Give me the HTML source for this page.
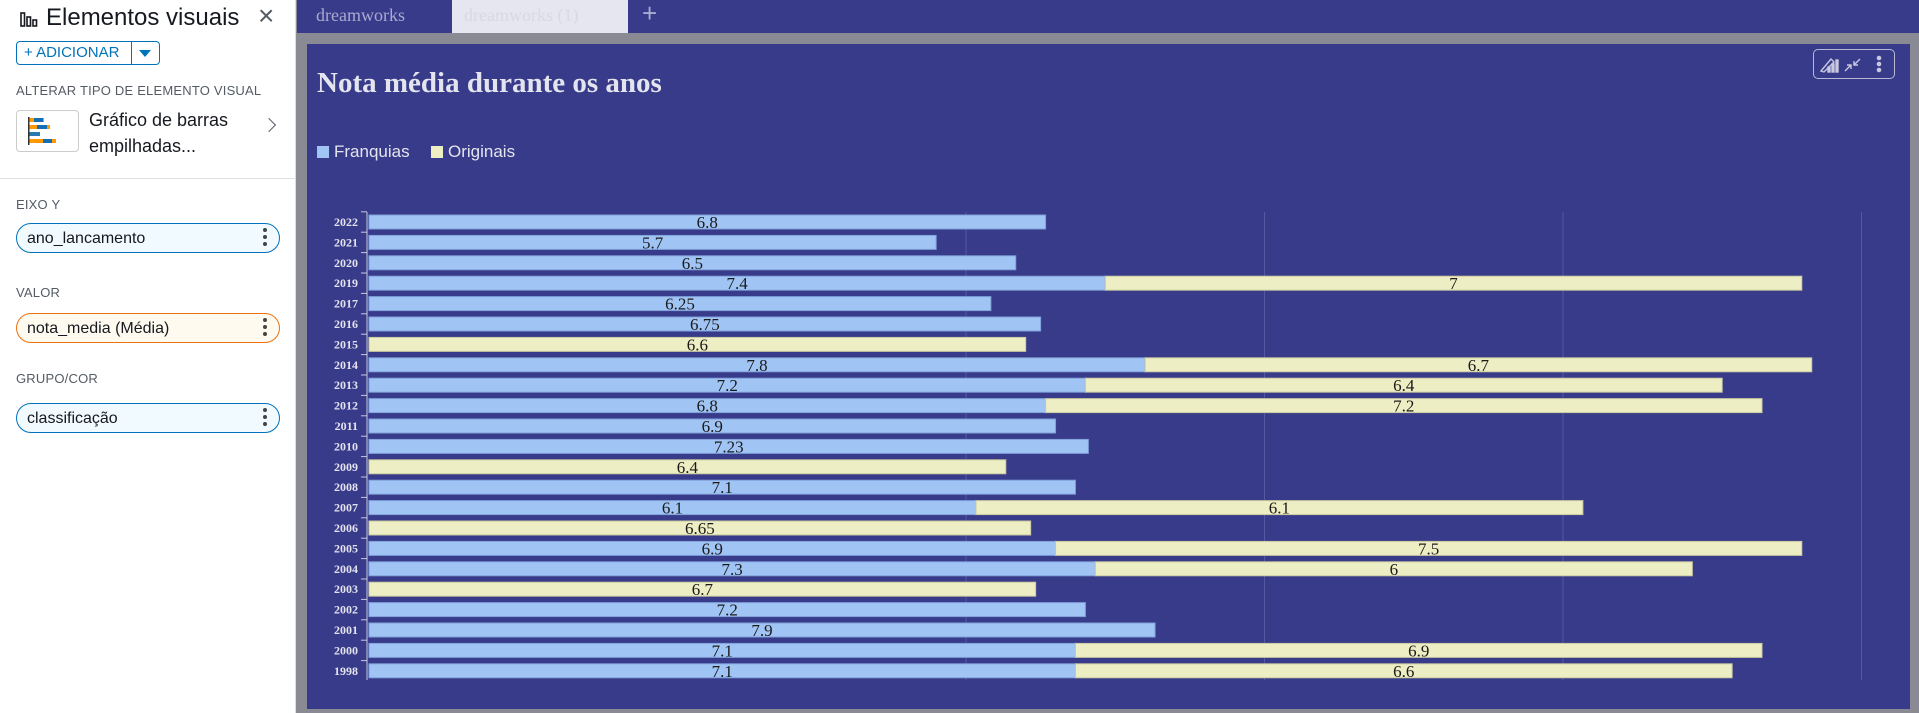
<!DOCTYPE html>
<html><head><meta charset="utf-8">
<style>
*{box-sizing:border-box;margin:0;padding:0}
body{width:1919px;height:713px;overflow:hidden;background:#8a8a94;font-family:"Liberation Sans",sans-serif;position:relative}
.abs{position:absolute}
#panel{left:0;top:0;width:296px;height:713px;background:#fff;border-right:1px solid #ddd}
.lbl{font-size:13px;color:#545b64;letter-spacing:0.2px}
.pill{left:16px;width:264px;height:30px;border:1px solid #0073bb;border-radius:15px;background:#f1faff;font-size:16px;color:#16191f;padding:6px 10px}
.dots{position:absolute;right:12px;top:4px;font-size:18px;line-height:6px;color:#444;width:4px}
.dots i{display:block;width:4px;height:4px;background:#444;border-radius:2px;margin-bottom:3px}
</style></head><body>
<div id="panel" class="abs">
  <svg class="abs" style="left:19px;top:10px" width="20" height="18"><g fill="none" stroke="#16191f" stroke-width="1.6"><rect x="2" y="3" width="3.5" height="13"/><rect x="8" y="7" width="3.5" height="9"/><rect x="14" y="10" width="3.5" height="6"/></g></svg>
  <div class="abs" style="left:46px;top:4px;font-size:24px;color:#16191f">Elementos visuais</div>
  <div class="abs" style="left:258px;top:0px;font-size:28px;color:#545b64">×</div>
  <div class="abs" style="left:16px;top:41px;width:144px;height:24px;border:1px solid #0073bb;border-radius:4px">
    <span class="abs" style="left:7px;top:2px;font-size:15px;color:#0073bb">+ ADICIONAR</span>
    <span class="abs" style="left:114px;top:0;width:1px;height:22px;background:#0073bb"></span>
    <span class="abs" style="left:122px;top:8px;width:0;height:0;border-left:6px solid transparent;border-right:6px solid transparent;border-top:7px solid #0073bb"></span>
  </div>
  <div class="abs lbl" style="left:16px;top:83px">ALTERAR TIPO DE ELEMENTO VISUAL</div>
  <div class="abs" style="left:16px;top:110px;width:63px;height:42px;border:1px solid #ccc;border-radius:4px">
    <svg width="63" height="42"><rect x="11" y="7" width="16" height="4" fill="#f90"/><rect x="17" y="7" width="9" height="4" fill="#146eb4"/><rect x="11" y="14" width="22" height="4" fill="#f90"/><rect x="20" y="14" width="10" height="4" fill="#146eb4"/><rect x="11" y="21" width="12" height="4" fill="#2a7ab0"/><rect x="11" y="28" width="28" height="4" fill="#f90"/><rect x="26" y="28" width="9" height="4" fill="#146eb4"/><rect x="11" y="6" width="1.5" height="28" fill="#333"/></svg>
  </div>
  <div class="abs" style="left:89px;top:107px;font-size:18px;line-height:26px;color:#16191f">Gráfico de barras<br>empilhadas...</div>
  <div class="abs" style="left:264px;top:120px;width:10px;height:10px;border-right:1.6px solid #545b64;border-bottom:1.6px solid #545b64;transform:rotate(-45deg)"></div>
  <div class="abs" style="left:0;top:178px;width:296px;height:1px;background:#e0e0e0"></div>
  <div class="abs lbl" style="left:16px;top:197px">EIXO Y</div>
  <div class="abs pill" style="top:223px">ano_lancamento<div class="dots"><i></i><i></i><i></i></div></div>
  <div class="abs lbl" style="left:16px;top:285px">VALOR</div>
  <div class="abs pill" style="top:313px;border-color:#ec7211;background:#fffaf0">nota_media (Média)<div class="dots"><i></i><i></i><i></i></div></div>
  <div class="abs lbl" style="left:16px;top:371px">GRUPO/COR</div>
  <div class="abs pill" style="top:403px">classificação<div class="dots"><i></i><i></i><i></i></div></div>
</div>
<div class="abs" style="left:297px;top:0;width:1622px;height:33px;background:#383a8a">
  <div class="abs" style="left:19px;top:5px;font-family:'Liberation Serif',serif;font-size:18px;color:#a8aad0">dreamworks</div>
  <div class="abs" style="left:155px;top:0;width:176px;height:33px;background:#e6e6f0"><span class="abs" style="left:12px;top:5px;font-family:'Liberation Serif',serif;font-size:18px;color:#d8d8e6">dreamworks (1)</span></div>
  <div class="abs" style="left:345px;top:-2px;font-size:26px;color:#a8aad0">+</div>
</div>
<div class="abs" style="left:307px;top:44px;width:1603px;height:665px;background:#383a8a"></div>
<div class="abs" style="left:1813px;top:49px;width:82px;height:30px;border:1px solid #b8b8d8;border-radius:5px">
  <svg width="82" height="30"><g stroke="#c8c8e0" fill="#c8c8e0" stroke-width="1.4"><path d="M7 21 L17 9 L20 12 L10 22 Z" fill="none"/><rect x="14" y="17" width="2" height="5"/><rect x="18" y="14" width="2" height="8"/><rect x="22" y="10" width="2" height="12"/><path d="M31 21 L37 15 M37 19 V15 H33 M46 9 L40 15 M40 11 V15 H44" fill="none"/><circle cx="65" cy="8" r="1.6"/><circle cx="65" cy="14" r="1.6"/><circle cx="65" cy="20" r="1.6"/></g></svg>
</div>
<svg class="abs" style="left:0;top:0" width="1919" height="713" id="chart"></svg>
<script>
const years=["2022","2021","2020","2019","2017","2016","2015","2014","2013","2012","2011","2010","2009","2008","2007","2006","2005","2004","2003","2002","2001","2000","1998"];
const franquias=[6.8,5.7,6.5,7.4,6.25,6.75,0,7.8,7.2,6.8,6.9,7.23,0,7.1,6.1,0,6.9,7.3,0,7.2,7.9,7.1,7.1];
const originais=[0,0,0,7,0,0,6.6,6.7,6.4,7.2,0,0,6.4,0,6.1,6.65,7.5,6,6.7,0,0,6.9,6.6];
const gridTicks=[6,9,12,15];
const NS="http://www.w3.org/2000/svg";
const svg=document.getElementById('chart');
const X0=369,UNIT=99.5,Y0=222,STEP=20.4,BH=14;
const xs=v=>X0+v*UNIT;
const ys=i=>Y0+i*STEP;
function mk(tag,attrs){const e=document.createElementNS(NS,tag);for(const k in attrs)e.setAttribute(k,attrs[k]);svg.appendChild(e);return e;}
let t=mk('text',{x:317,y:92,'font-family':'Liberation Serif, serif','font-weight':'bold','font-size':29,fill:'#e4e4ee'});t.textContent='Nota média durante os anos';


const legend=[["Franquias","#a0c4f4",317],["Originais","#eeeec4",431]];
legend.forEach(l=>{
 const r=mk('rect',{x:l[2],y:146,width:12,height:12,fill:l[1]});
 
 
 const tx=mk('text',{x:l[2]+17,y:157,'font-family':'Liberation Sans, sans-serif','font-size':17,fill:'#e4e4ee'});tx.textContent=l[0];
 
 
});
gridTicks.forEach(v=>{
 const g=mk('line',{x1:xs(v),x2:xs(v),y1:212,y2:680,stroke:'#5458a0','stroke-width':1});
 
 
});
const ax=mk('line',{x1:367,x2:367,y1:212,y2:680,stroke:'#c8c8e0','stroke-width':1});


years.forEach((yr,i)=>{
 const cy=ys(i);
 const tk=mk('line',{x1:361,x2:367,y1:cy-STEP/2,y2:cy-STEP/2,stroke:'#c8c8e0','stroke-width':1});
 
 
 const lb=mk('text',{x:358,y:cy+4,'text-anchor':'end','font-family':'Liberation Serif, serif','font-weight':'bold','font-size':12,fill:'#e4e4ee'});lb.textContent=yr;
 
 
 const segs=[[0,franquias[i],'#a0c4f4','#7fa0d8','franquias'],[franquias[i],originais[i],'#eeeec4','#c8c8a0','originais']];
 segs.forEach(s=>{
  if(!s[1])return;
  const r=mk('rect',{x:xs(s[0]),y:cy-BH/2,width:s[1]*UNIT,height:BH,fill:s[2],stroke:s[3],'stroke-width':1});
  
  
  const v=mk('text',{x:xs(s[0]+s[1]/2),y:cy+6,'text-anchor':'middle','font-family':'Liberation Serif, serif','font-size':17,fill:'#1a1a1a'});v.textContent=String(s[1]);
  
  
 });
});
</script>
</body></html>
